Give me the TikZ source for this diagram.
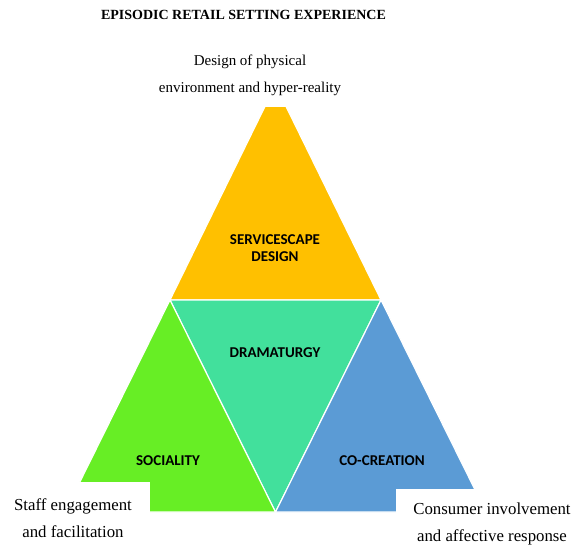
\documentclass[tikz,border=0pt]{standalone}
\usepackage{fontspec}
\setmainfont{Liberation Serif}
\newfontfamily\labelfont{Carlito}
\usepackage{tikz}

\definecolor{scapeorange}{HTML}{FFC000}
\definecolor{dramateal}{HTML}{42E09C}
\definecolor{sociallime}{HTML}{67EE25}
\definecolor{cocreblue}{HTML}{5B9BD5}

\begin{document}
\begin{tikzpicture}[x=1pt, y=-1pt,
	tri/.style = {draw = white, line width = 1.2pt, line join = miter},
	lbl/.style = {font = \labelfont\bfseries\fontsize{15}{17}\selectfont, align = center, inner sep = 0pt},
	note/.style = {font = \fontsize{15}{27}\selectfont, align = center, inner sep = 0pt},
	footnote/.style = {note, font = \fontsize{16.8}{27.5}\selectfont}]
	\useasboundingbox (0,0) rectangle (573,548);
	
	% the four triangles
	\filldraw [tri, fill = scapeorange] (275.5,85) -- (381,300) -- (170,300) -- cycle;
	\filldraw [tri, fill = dramateal] (170,300) -- (381,300) -- (275.5,512) -- cycle;
	\filldraw [tri, fill = sociallime] (170,300) -- (275.5,512) -- (65,512) -- cycle;
	\filldraw [tri, fill = cocreblue] (381,300) -- (486,512) -- (275.5,512) -- cycle;
	
	% text boxes cut into the shapes
	\fill [white] (150,0) rectangle (400,107);
	\fill [white] (0,482) rectangle (150,548);
	\fill [white] (396,489) rectangle (573,548);
	
	\node [font = \bfseries\fontsize{14}{16}\selectfont, inner sep = 0pt] (title) at (243.5,15) {EPISODIC RETAIL SETTING EXPERIENCE};
	
	\node [lbl] (servicescape) at (275,248) {SERVICESCAPE\\DESIGN};
	\node [lbl] (dramaturgy) at (275,353) {DRAMATURGY};
	\node [lbl] (sociality) at (168,461) {SOCIALITY};
	\node [lbl] (cocreation) at (382,461) {CO-CREATION};
	
	\node [note] (physical) at (250,75) {Design of physical\\environment and hyper-reality};
	\node [footnote] (staff) at (73,518) {Staff engagement\\and facilitation};
	\node [footnote] (consumer) at (492,524) {Consumer involvement\\and affective response};
\end{tikzpicture}
\end{document}
